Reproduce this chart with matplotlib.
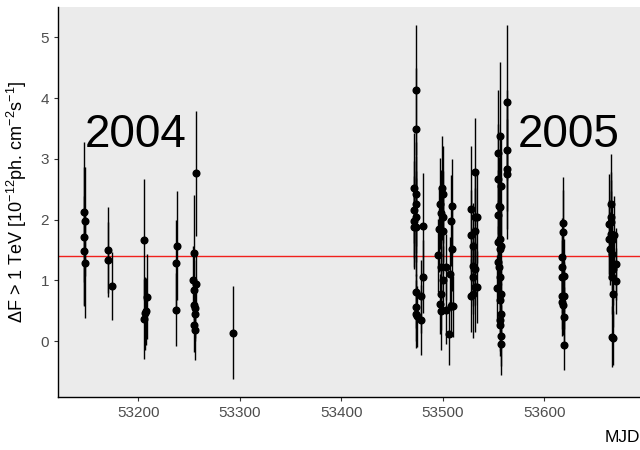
import matplotlib
matplotlib.use("Agg")
import matplotlib.pyplot as plt

plt.rcParams['font.family'] = ['Liberation Sans', 'DejaVu Sans']
plt.rcParams['mathtext.fontset'] = 'custom'
plt.rcParams['mathtext.rm'] = 'Liberation Sans'
plt.rcParams['mathtext.it'] = 'Liberation Sans:italic'

# Nightly flux measurements above 1 TeV (MJD, flux, 1-sigma error)
mjd = [
    # 2004
    53146.8, 53147.6, 53146.8, 53146.8, 53147.6,
    53169.8, 53170.2, 53174.2,
    53206.0, 53208.1, 53207.7, 53206.8, 53206.0,
    53238.3, 53237.1, 53237.5,
    53256.8, 53254.4, 53254.0, 53256.8, 53255.2, 53255.2, 53255.6, 53255.6, 53255.2, 53255.6,
    53293.4,
    # 2005
    53473.9, 53473.9, 53471.8, 53473.9, 53473.9, 53471.8, 53473.9, 53471.8, 53473.9, 53471.8,
    53473.9, 53473.9, 53473.9, 53474.7,
    53480.3, 53480.3, 53479.1, 53479.1,
    53499.2, 53500.4, 53497.2, 53498.0, 53500.0, 53496.0, 53500.0, 53495.6, 53498.0, 53502.9,
    53500.0, 53498.8, 53497.2, 53498.8, 53502.9, 53506.1, 53507.3, 53508.9, 53508.1, 53508.9,
    53510.1, 53508.1,
    53531.5, 53528.2, 53531.5, 53533.5, 53528.2, 53532.3, 53530.2, 53529.4, 53532.3, 53530.2,
    53532.3, 53530.2, 53528.2, 53533.5,
    53556.4, 53554.4, 53554.4, 53557.2, 53555.2, 53556.4, 53554.4, 53556.4, 53554.4, 53557.6,
    53556.4, 53554.4, 53555.2, 53556.4, 53553.6, 53557.2, 53556.4, 53557.2, 53556.4, 53556.4,
    53557.6, 53557.6,
    53563.7, 53563.7, 53563.7, 53563.7,
    53618.8, 53618.8, 53618.0, 53617.2, 53618.0, 53619.6, 53618.0, 53620.0, 53617.2, 53618.8,
    53619.6, 53620.0,
    53665.9, 53665.9, 53665.9, 53664.3, 53666.4, 53669.2, 53664.3, 53667.2, 53665.1, 53667.2,
    53670.4, 53668.0, 53667.2, 53670.4, 53668.0, 53667.2, 53668.0,
]

flux = [
    2.12, 1.97, 1.72, 1.49, 1.28,
    1.50, 1.34, 0.90,
    1.67, 0.73, 0.49, 0.46, 0.36,
    1.57, 1.28, 0.52,
    2.76, 1.45, 1.01, 0.94, 0.84, 0.59, 0.55, 0.45, 0.27, 0.19,
    0.14,
    4.14, 3.49, 2.52, 2.42, 2.25, 2.16, 2.05, 1.97, 1.88, 1.88,
    0.81, 0.56, 0.44, 0.41,
    1.89, 1.06, 0.74, 0.35,
    2.52, 2.42, 2.26, 2.11, 2.05, 1.84, 1.82, 1.41, 1.22, 1.22,
    1.01, 0.78, 0.61, 0.50, 0.51, 0.12, 1.11, 2.22, 1.98, 1.52,
    0.57, 0.57,
    2.78, 2.18, 2.04, 2.04, 1.74, 1.82, 1.57, 1.23, 1.19, 1.05,
    0.89, 0.78, 0.75, 0.89,
    3.38, 3.09, 2.67, 2.56, 2.23, 2.20, 2.07, 1.68, 1.63, 1.57,
    1.52, 1.30, 1.22, 1.05, 0.87, 0.78, 0.67, 0.45, 0.34, 0.26,
    0.09, -0.04,
    3.93, 3.14, 2.83, 2.75,
    1.95, 1.79, 1.38, 1.22, 1.06, 1.08, 0.75, 0.75, 0.64, 0.60,
    0.39, -0.06,
    2.26, 2.04, 1.96, 1.93, 1.77, 1.74, 1.68, 1.66, 1.52, 1.44,
    1.27, 1.19, 1.05, 0.99, 0.78, 0.07, 0.05,
]

flux_err = [
    1.15, 0.90, 1.15, 0.90, 0.90,
    0.70, 0.62, 0.56,
    1.00, 0.70, 0.55, 0.60, 0.66,
    0.90, 0.72, 0.60,
    1.03, 0.96, 0.55, 0.50, 0.50, 0.45, 0.50, 0.45, 0.45, 0.50,
    0.77,
    1.07, 1.00, 0.90, 0.85, 0.80, 0.80, 0.75, 0.75, 0.80, 0.70,
    0.60, 0.55, 0.56, 0.50,
    0.88, 0.60, 0.60, 0.58,
    0.85, 0.80, 0.75, 0.70, 0.75, 0.70, 0.70, 0.60, 0.60, 0.55,
    0.55, 0.60, 0.50, 0.64, 0.55, 0.52, 0.60, 0.78, 0.75, 0.70,
    0.50, 0.50,
    0.89, 1.03, 0.80, 0.75, 0.75, 0.70, 0.70, 0.65, 0.60, 0.60,
    0.74, 0.73, 0.60, 0.60,
    1.21, 1.04, 0.90, 0.85, 0.80, 0.80, 0.75, 0.70, 0.70, 0.65,
    0.65, 0.60, 0.60, 0.60, 0.55, 0.55, 0.55, 0.50, 0.50, 0.50,
    0.50, 0.52,
    1.28, 1.00, 1.15, 0.90,
    0.75, 0.70, 0.65, 0.60, 0.60, 0.60, 0.55, 0.55, 0.55, 0.50,
    0.50, 0.42,
    0.82, 0.75, 0.70, 0.82, 0.70, 0.65, 0.65, 0.65, 0.60, 0.60,
    0.60, 0.60, 0.60, 0.55, 0.55, 0.50, 0.45,
]

mean_flux = 1.40

season_labels = ["2004", "2005"]
season_mjd = [53197, 53624.5]
season_y = [3.19, 3.19]

x_ticks = [53200, 53300, 53400, 53500, 53600]
y_ticks = [0, 1, 2, 3, 4, 5]

fig = plt.figure(figsize=(6.4, 4.5), dpi=100)
ax = fig.add_axes([58 / 640, 53 / 450, 582 / 640, 390 / 450])
ax.set_facecolor("#EBEBEB")

ax.errorbar(mjd, flux, yerr=flux_err, fmt="o", color="black", ms=4.8,
            elinewidth=1.0, capsize=0, ecolor="black", zorder=3)
ax.axhline(mean_flux, color="#F0201C", lw=1.0, zorder=2)

for lab, xm, ym in zip(season_labels, season_mjd, season_y):
    ax.text(xm, ym, lab, fontsize=33, ha="center", va="baseline", color="black", zorder=4)

ax.set_xlim(53120.8, 53694.5)
ax.set_ylim(-0.92, 5.5)
ax.set_xticks(x_ticks)
ax.set_yticks(y_ticks)
ax.tick_params(axis="both", colors="#333333", labelcolor="#4D4D4D", labelsize=11,
               length=3, width=0.8)

for side in ("top", "right"):
    ax.spines[side].set_visible(False)
for side in ("left", "bottom"):
    ax.spines[side].set_color("black")
    ax.spines[side].set_linewidth(1.0)

ax.set_ylabel(r"$\Delta$F > 1 TeV [10$^{-12}$ph. cm$^{-2}$s$^{-1}$]", fontsize=13, color="black")
ax.yaxis.set_label_coords(-0.050, 0.50)
fig.text(1.0, 13 / 450, "MJD", fontsize=12.5, ha="right", va="center", color="black")

fig.savefig("out.png", dpi=100)
